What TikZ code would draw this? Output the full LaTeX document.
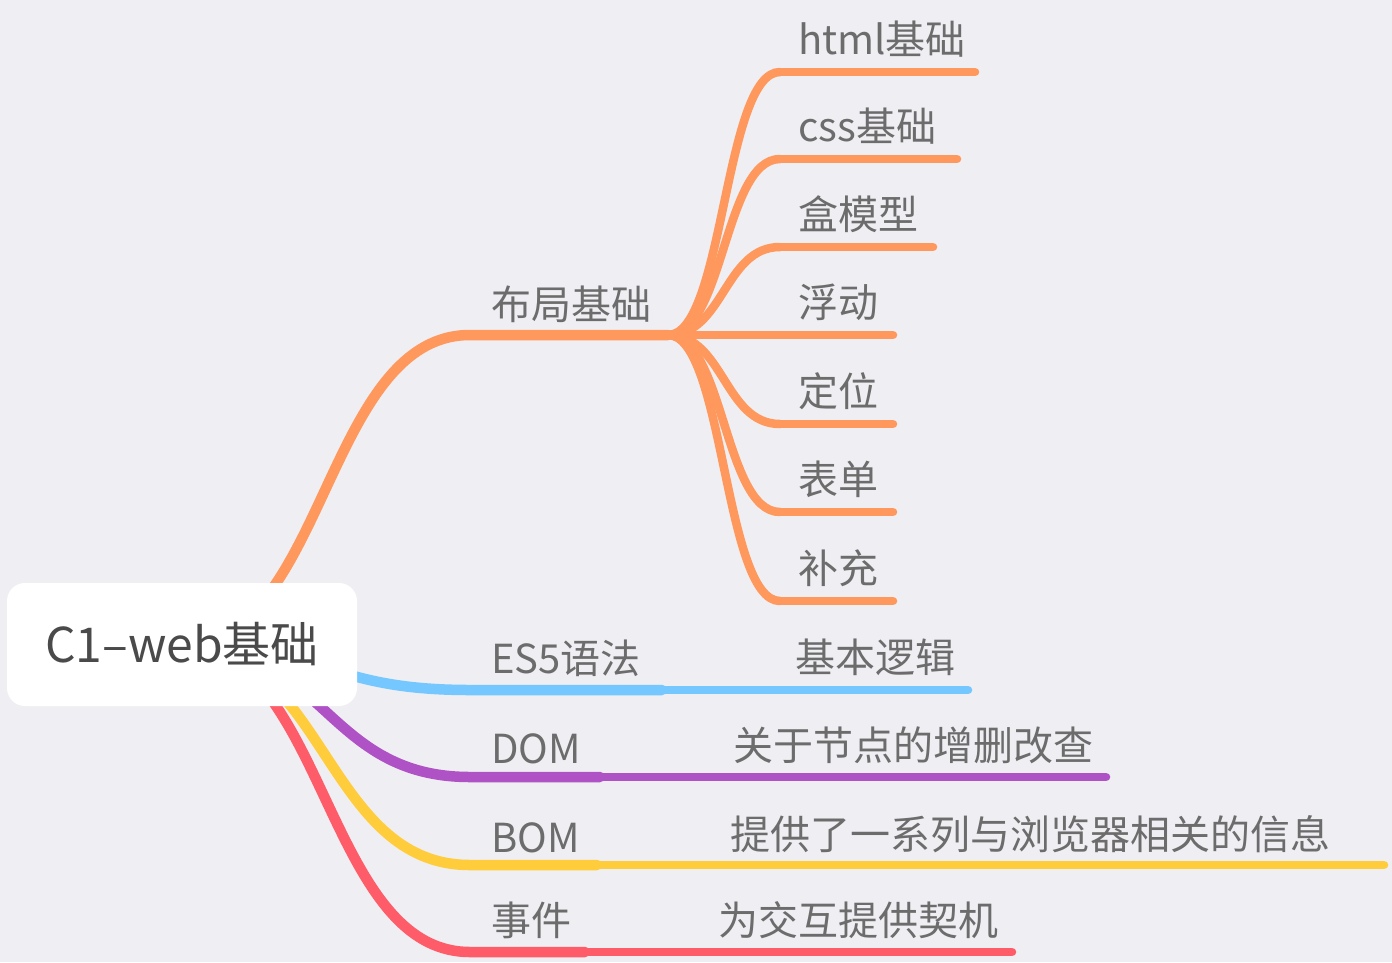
\documentclass[tikz,border=0pt]{standalone}
\usepackage{fontspec}
\setmainfont{Noto Sans CJK SC}
\definecolor{bg}{RGB}{239,238,243}
\definecolor{cor}{RGB}{255,152,92}
\definecolor{cbl}{RGB}{116,199,255}
\definecolor{cpu}{RGB}{175,82,197}
\definecolor{cye}{RGB}{255,204,60}
\definecolor{cre}{RGB}{255,92,105}
\definecolor{txt}{RGB}{108,108,108}
\definecolor{roottxt}{RGB}{74,74,74}
\tikzset{
  mainline/.style={line width=10.5pt, line cap=round},
  childline/.style={line width=8.5pt, line cap=round},
  lbl/.style={anchor=base west, inner sep=0pt, text=txt, font=\fontsize{40}{40}\selectfont},
  rootbox/.style={fill=white, rounded corners=18pt, minimum width=350pt, minimum height=123pt, inner sep=0pt, text=roottxt, font=\fontsize{48}{48}\selectfont}
}
\begin{document}
\begin{tikzpicture}[x=1pt,y=-1pt]
\path[fill=bg] (0,0) rectangle (1392,962);
\useasboundingbox (0,0) rectangle (1392,962);
% coordinates
\coordinate (r) at (181,645);
\coordinate (m1s) at (470,335); \coordinate (m1e) at (668,335);
\coordinate (m2s) at (470,690); \coordinate (m2e) at (662,690);
\coordinate (m3s) at (470,777); \coordinate (m3e) at (600,777);
\coordinate (m4s) at (470,865); \coordinate (m4e) at (597,865);
\coordinate (m5s) at (470,952); \coordinate (m5e) at (585,952);
\coordinate (c1s) at (780,72);  \coordinate (c1e) at (975,72);
\coordinate (c2s) at (780,159); \coordinate (c2e) at (957,159);
\coordinate (c3s) at (780,247); \coordinate (c3e) at (933,247);
\coordinate (c4e) at (893,335);
\coordinate (c5s) at (780,424); \coordinate (c5e) at (893,424);
\coordinate (c6s) at (780,512); \coordinate (c6e) at (893,512);
\coordinate (c7s) at (780,601); \coordinate (c7e) at (893,601);
\coordinate (d2e) at (968,690);
\coordinate (d3e) at (1106,777);
\coordinate (d4e) at (1384,865);
\coordinate (d5e) at (1012,952);
% children of layout
\foreach \c/\y in {c1s/72,c2s/159,c3s/247,c5s/424,c6s/512,c7s/601}{
  \draw[childline,cor] (m1e) .. controls (724,335) and (724,\y) .. (\c);
}
\draw[childline,cor] (c1s) -- (c1e);
\draw[childline,cor] (c2s) -- (c2e);
\draw[childline,cor] (c3s) -- (c3e);
\draw[childline,cor] (m1e) -- (c4e);
\draw[childline,cor] (c5s) -- (c5e);
\draw[childline,cor] (c6s) -- (c6e);
\draw[childline,cor] (c7s) -- (c7e);
% other children
\draw[childline,cbl] (m2e) -- (d2e);
\draw[childline,cpu] (m3e) -- (d3e);
\draw[childline,cye] (m4e) -- (d4e);
\draw[childline,cre] (m5e) -- (d5e);
% main branches
\draw[mainline,cre] (r) .. controls (325,645) and (325,952) .. (m5s) -- (m5e);
\draw[mainline,cye] (r) .. controls (325,645) and (325,865) .. (m4s) -- (m4e);
\draw[mainline,cpu] (r) .. controls (325,645) and (325,777) .. (m3s) -- (m3e);
\draw[mainline,cbl] (r) .. controls (325,645) and (325,690) .. (m2s) -- (m2e);
\draw[mainline,cor] (r) .. controls (325,645) and (325,335) .. (m1s) -- (m1e);
% root
\node[rootbox] (root) at (182,644.5) {C1–web基础};
% labels
\node[lbl] (l1) at (491,319) {布局基础};
\node[lbl] (l2) at (491,673) {ES5语法};
\node[lbl] (l3) at (491,763) {DOM};
\node[lbl] (l4) at (491,852) {BOM};
\node[lbl] (l5) at (491,935) {事件};
\node[lbl] (k1) at (798,54) {html基础};
\node[lbl] (k2) at (798,141) {css基础};
\node[lbl] (k3) at (798,229) {盒模型};
\node[lbl] (k4) at (798,317) {浮动};
\node[lbl] (k5) at (798,406) {定位};
\node[lbl] (k6) at (798,494) {表单};
\node[lbl] (k7) at (798,583) {补充};
\node[lbl] (e2) at (795,672) {基本逻辑};
\node[lbl] (e3) at (733,760) {关于节点的增删改查};
\node[lbl] (e4) at (730,849) {提供了一系列与浏览器相关的信息};
\node[lbl] (e5) at (718,935) {为交互提供契机};
\end{tikzpicture}
\end{document}
